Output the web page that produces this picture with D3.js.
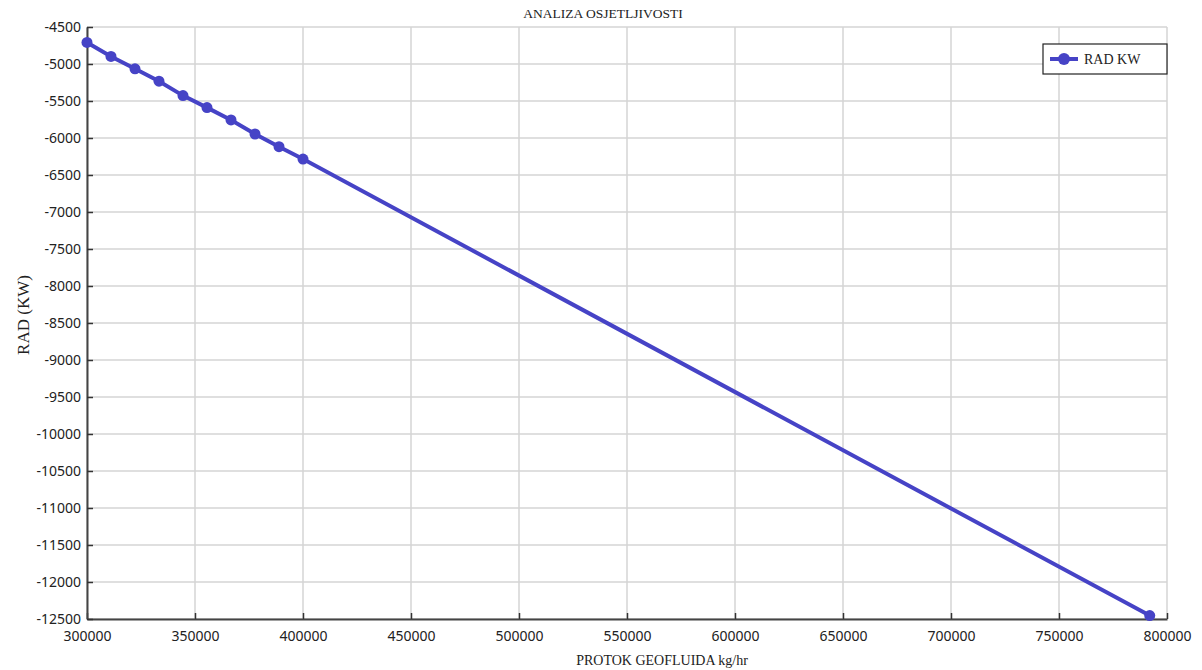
<!DOCTYPE html>
<html>
<head>
<meta charset="utf-8">
<script src="https://cdn.jsdelivr.net/npm/d3@7"></script>
<style>
  body { margin: 0; background: #fff; }
  svg { display: block; }
</style>
</head>
<body>
<svg id="viz"></svg>
<script>
// data
var flowValues = [300000, 311111, 322222, 333333, 344444, 355556, 366667, 377778, 388889, 400000, 792000];
var workValues = [-4709, -4898, -5065, -5232, -5427, -5589, -5756, -5946, -6118, -6285, -12454];
var xTicks = d3.range(300000, 800001, 50000);
var yTicks = d3.range(-12500, -4499, 500);

var width = 1202, height = 670;
var margin = {left: 87, right: 35, top: 27, bottom: 51};
var lineColor = "#4643c6";
var serif = "'Liberation Serif', 'Times New Roman', serif";
var sans = "'Noto Sans', 'Open Sans', sans-serif";

// plain hyphen minus, like the original
var fmt = function(d) { return String(d); };

var svg = d3.select("#viz").attr("width", width).attr("height", height);

var x = d3.scaleLinear().domain([300000, 800000]).range([margin.left, width - margin.right]);
var y = d3.scaleLinear().domain([-12500, -4500]).range([height - margin.bottom, margin.top]);

// grid
var grid = svg.append("g").attr("class", "grid");
grid.selectAll("line.v").data(xTicks).enter().append("line")
    .attr("x1", function(d) { return x(d); }).attr("x2", function(d) { return x(d); })
    .attr("y1", y(-4500)).attr("y2", y(-12500))
    .attr("stroke", "#d4d4d4").attr("stroke-width", 1.5);
grid.selectAll("line.h").data(yTicks).enter().append("line")
    .attr("x1", x(300000)).attr("x2", x(800000))
    .attr("y1", function(d) { return y(d); }).attr("y2", function(d) { return y(d); })
    .attr("stroke", "#d4d4d4").attr("stroke-width", 1.5);

// axes
var xAxis = svg.append("g")
    .attr("transform", "translate(0," + y(-12500) + ")")
    .call(d3.axisBottom(x).tickValues(xTicks).tickSizeInner(-6).tickSizeOuter(0).tickPadding(12).tickFormat(fmt));
var yAxis = svg.append("g")
    .attr("transform", "translate(" + x(300000) + ",0)")
    .call(d3.axisLeft(y).tickValues(yTicks).tickSizeInner(-6).tickSizeOuter(0).tickPadding(12).tickFormat(fmt));

[xAxis, yAxis].forEach(function(a) {
    a.select(".domain").attr("stroke", "#444").attr("stroke-width", 2);
    a.selectAll(".tick line").attr("stroke", "#333").attr("stroke-width", 1.5);
    a.selectAll(".tick text").attr("font-family", sans).attr("font-size", 14).attr("fill", "#222");
});
yAxis.selectAll(".tick text").attr("dx", 6);

// line + markers
var pts = flowValues.map(function(v, i) { return [v, workValues[i]]; });
svg.append("path")
    .datum(pts)
    .attr("fill", "none")
    .attr("stroke", lineColor)
    .attr("stroke-width", 4)
    .attr("d", d3.line().x(function(d) { return x(d[0]); }).y(function(d) { return y(d[1]); }));
svg.append("g").selectAll("circle").data(pts).enter().append("circle")
    .attr("cx", function(d) { return x(d[0]); })
    .attr("cy", function(d) { return y(d[1]); })
    .attr("r", 5.5)
    .attr("fill", lineColor);

// titles
svg.append("text").attr("x", 603).attr("y", 18).attr("text-anchor", "middle")
    .attr("font-family", serif).attr("font-size", 13.5).attr("fill", "#222")
    .text("ANALIZA OSJETLJIVOSTI");
svg.append("text").attr("x", 662).attr("y", 665).attr("text-anchor", "middle")
    .attr("font-family", serif).attr("font-size", 14).attr("fill", "#222")
    .text("PROTOK GEOFLUIDA kg/hr");
svg.append("text").attr("transform", "translate(29,315) rotate(-90)").attr("text-anchor", "middle")
    .attr("font-family", serif).attr("font-size", 17).attr("fill", "#222")
    .text("RAD (KW)");

// legend
var lg = svg.append("g").attr("transform", "translate(1043,44)");
lg.append("rect").attr("width", 124).attr("height", 30)
    .attr("fill", "#fff").attr("stroke", "#222").attr("stroke-width", 1.2);
lg.append("line").attr("x1", 7).attr("x2", 35).attr("y1", 15).attr("y2", 15)
    .attr("stroke", lineColor).attr("stroke-width", 4);
lg.append("circle").attr("cx", 21).attr("cy", 15).attr("r", 6).attr("fill", lineColor);
lg.append("text").attr("x", 41).attr("y", 20)
    .attr("font-family", serif).attr("font-size", 14).attr("fill", "#222")
    .text("RAD KW");
</script>
</body>
</html>
